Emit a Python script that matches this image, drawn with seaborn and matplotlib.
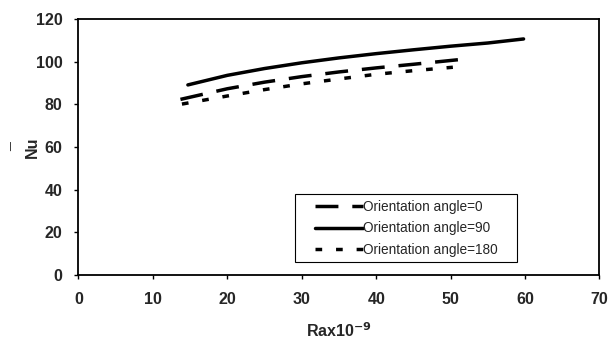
import matplotlib
matplotlib.use("Agg")
import matplotlib.pyplot as plt
from matplotlib.patches import Rectangle
import seaborn as sns
import pandas as pd

# Average Nusselt number vs Rayleigh number (x 10^-9) for three orientation angles
ra_0 = [13.7, 20, 25, 30, 35, 40, 45, 52.3]
nu_0 = [82.4, 87.4, 90.5, 93.1, 95.3, 97.2, 98.9, 101.5]

ra_90 = [14.7, 20, 25, 30, 35, 40, 45, 50, 55, 59.8]
nu_90 = [89.2, 93.7, 96.9, 99.6, 101.9, 103.9, 105.7, 107.4, 108.9, 110.8]

ra_180 = [13.9, 20, 25, 30, 35, 40, 45, 50.3]
nu_180 = [80.2, 84.0, 87.0, 89.7, 92.0, 94.2, 95.9, 97.5]

labels = ["Orientation angle=0", "Orientation angle=90", "Orientation angle=180"]

x_ticks = [0, 10, 20, 30, 40, 50, 60, 70]
y_ticks = [0, 20, 40, 60, 80, 100, 120]

df = pd.concat([
    pd.DataFrame({"Ra": ra_0, "Nu": nu_0, "series": labels[0]}),
    pd.DataFrame({"Ra": ra_90, "Nu": nu_90, "series": labels[1]}),
    pd.DataFrame({"Ra": ra_180, "Nu": nu_180, "series": labels[2]}),
], ignore_index=True)

sns.set_theme(style="white")
plt.rcParams["font.family"] = ["Liberation Sans", "DejaVu Sans"]
plt.rcParams["lines.scale_dashes"] = False

fig = plt.figure(figsize=(6.16, 3.40), dpi=100)
ax = fig.add_axes([0.1274, 0.192, 0.8458, 0.751])

dash_styles = {
    labels[0]: (16.5, 10),
    labels[1]: "",
    labels[2]: (4.8, 10),
}
sns.lineplot(data=df, x="Ra", y="Nu", hue="series", style="series",
             hue_order=labels, style_order=labels,
             palette=["black", "black", "black"], dashes=dash_styles,
             linewidth=2.5, sort=True, estimator=None, ax=ax)

ax.set_xlim(0, 70)
ax.set_ylim(0, 120)
ax.set_xticks(x_ticks)
ax.set_yticks(y_ticks)
ax.tick_params(axis="both", direction="out", length=3, width=1, color="black",
               labelsize=11.5, left=True, bottom=True)
ax.tick_params(axis="x", pad=9.6)
ax.tick_params(axis="y", pad=8.4)
for lbl in ax.get_xticklabels() + ax.get_yticklabels():
    lbl.set_fontweight("bold")

for side in ["left", "right", "top", "bottom"]:
    ax.spines[side].set_visible(True)
    ax.spines[side].set_color("black")
    ax.spines[side].set_linewidth(1.3)

# axis titles
ax.set_xlabel("Rax10$^{\\mathbf{-9}}$", fontsize=11.5, fontweight="bold", labelpad=10)
# Nu with its overbar set on a separate line (rotated, so the bar sits to the left)
ax.set_ylabel("¯\nNu", fontsize=11.5, fontweight="bold", linespacing=0.8,
              multialignment="center")
ax.yaxis.set_label_coords(-0.0749, 0.5)

# legend: framed box with line samples and labels
ax.add_patch(Rectangle((0.4155, 0.0486), 0.4267, 0.2662, transform=ax.transAxes,
                       facecolor="white", edgecolor="black", linewidth=0.8, zorder=4))
leg = ax.legend(loc="center left", bbox_to_anchor=(0.454, 0.1817), borderaxespad=0,
                frameon=False, fontsize=9.8, handlelength=3.53,
                handletextpad=0.0, labelspacing=0.57, borderpad=0)
leg.set_zorder(5)
for line in leg.get_lines():
    line.set_linewidth(2.5)

fig.savefig("out.png", dpi=100, facecolor="white")
